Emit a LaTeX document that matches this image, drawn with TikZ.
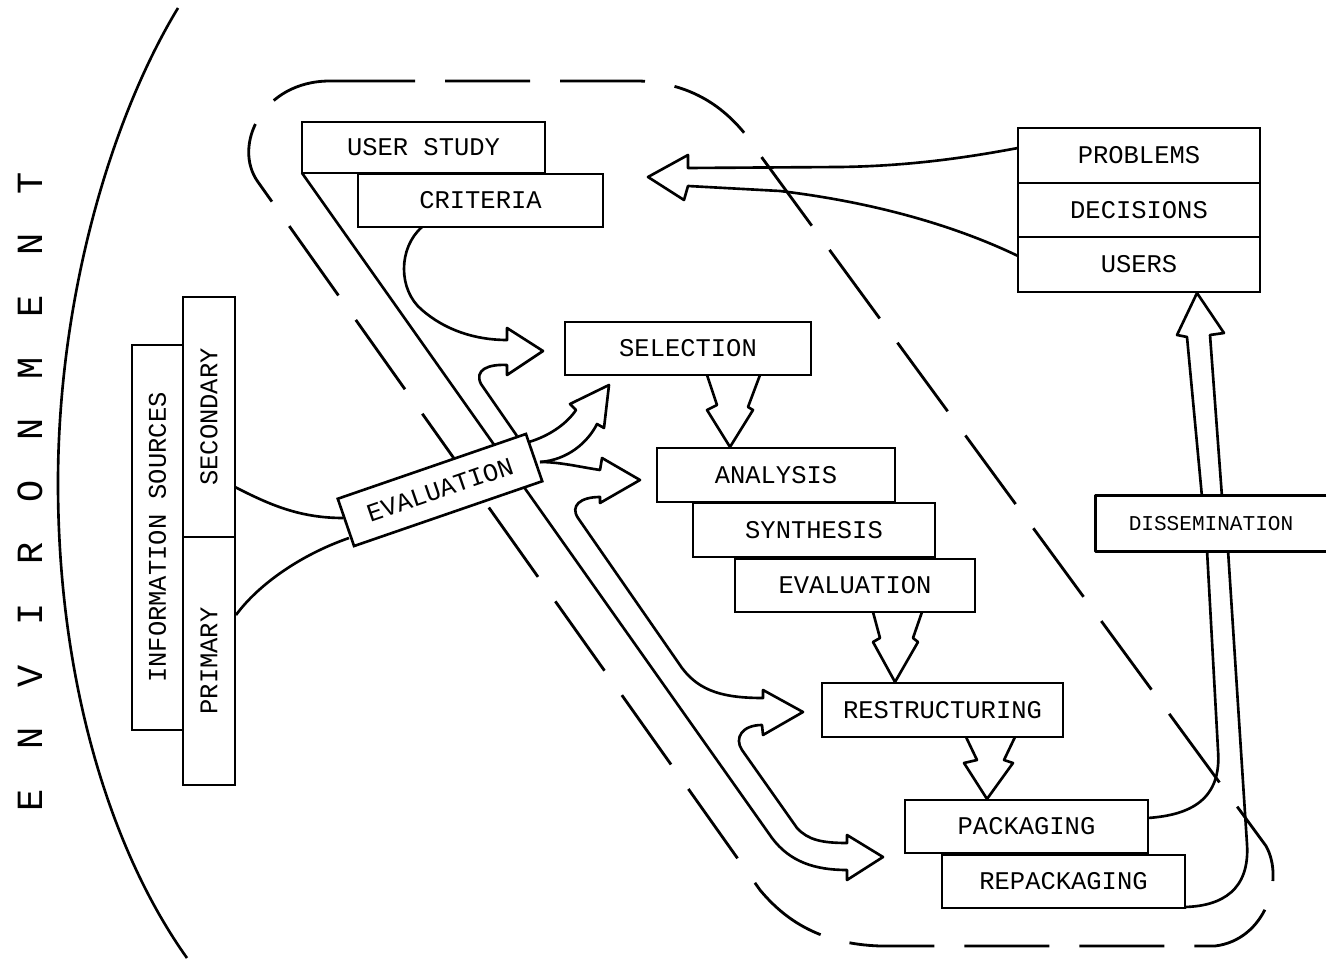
\documentclass[tikz,border=0pt]{standalone}
\usepackage{fontspec}
\setmonofont{Liberation Mono}
\tikzstyle{box}=[draw, fill=white, line width=1.5pt, inner sep=0pt, font=\ttfamily\fontsize{14.5}{17}\selectfont]
\tikzstyle{flow}=[line width=1.5pt, line join=round]
\tikzstyle{fence}=[line width=1.6pt, dash pattern=on 17mm off 6mm]
\tikzstyle{letter}=[rotate=90, inner sep=0pt, font=\ttfamily\fontsize{21}{21}\selectfont]

\begin{document}
\begin{tikzpicture}[x=0.2mm, y=-0.2mm]
    \path[use as bounding box, fill=white] (0,0) rectangle (1332,963);

    % Environment
    \draw[flow] (178,8) .. controls (110,120) and (58,300) .. (58,483) .. controls (58,680) and (110,850) .. (187,958);
    \foreach \ch [count=\i from 0] in {E,N,V,I,R,O,N,M,E,N,T}
        \draw (30,{800-61.7*\i}) node[letter] (env\i) {\ch};

    % Dashed boundary
    \draw[fence] (330,81) -- (640,81) .. controls (700,84) and (735,115) .. (760,155) -- (1266,846)
        .. controls (1285,880) and (1265,940) .. (1215,946) -- (880,946)
        .. controls (820,944) and (785,920) .. (760,890) -- (258,182)
        .. controls (232,146) and (262,81) .. (330,81);

    % Main channel
    \draw[flow] (302,173) -- (772,838) .. controls (790,862) and (815,870) .. (847,870) -- (847,880) -- (883,857)
        -- (847,835) -- (847,843) .. controls (822,843) and (808,840) .. (797,828) -- (742,750)
        .. controls (734,738) and (742,725) .. (762,725) -- (763,735) -- (803,712) -- (763,690) -- (763,698)
        .. controls (725,698) and (700,692) .. (682,668) -- (578,518) .. controls (570,506) and (580,497) .. (600,497)
        -- (600,503) -- (640,480) -- (602,458) -- (600,470) .. controls (580,467) and (560,462) .. (540,462);
    \draw[flow] (529,442) .. controls (552,435) and (568,422) .. (576,410) -- (570,404) -- (609,385) -- (604,428)
        -- (597,424) .. controls (588,442) and (568,460) .. (540,462);
    \draw[flow] (422,227) .. controls (398,248) and (398,290) .. (422,310) .. controls (445,330) and (475,340) .. (507,340)
        -- (507,328) -- (543,351) -- (507,375) -- (507,365) .. controls (488,364) and (474,370) .. (481,384) -- (517,436);

    % Sources
    \draw[flow] (235,487) .. controls (270,505) and (300,518) .. (343,518);
    \draw[flow] (236,615) .. controls (258,585) and (300,555) .. (349,538);

    % Feedback
    \draw[flow] (1018,148) .. controls (975,156) and (915,166) .. (840,167) -- (688,168) -- (688,155) -- (648,177)
        -- (684,200) -- (688,186) -- (780,191) .. controls (880,203) and (960,228) .. (1018,256);

    % Steps
    \draw[flow] (707,375) -- (717,405) -- (707,410) -- (730,447) -- (753,410) -- (748,407) -- (760,375);
    \draw[flow] (873,612) -- (880,638) -- (873,642) -- (895,682) -- (918,642) -- (913,638) -- (922,612);
    \draw[flow] (966,737) -- (977,760) -- (964,763) -- (987,799) -- (1013,763) -- (1004,760) -- (1015,737);

    % Dissemination
    \draw[flow] (1202,497) -- (1187,337) -- (1177,335) -- (1197,293) -- (1224,333) -- (1210,335) -- (1222,497);
    \draw[flow] (1207,550) -- (1218,750) .. controls (1222,800) and (1190,815) .. (1148,818);
    \draw[flow] (1228,550) -- (1247,844) .. controls (1250,890) and (1222,906) .. (1185,907);

    % Boxes
    \draw (423.5,147.5) node[box, minimum width=48.6mm, minimum height=10.2mm] (ustudy) {USER STUDY};
    \draw (480.5,200.5) node[box, minimum width=49mm, minimum height=10.6mm] (crit) {CRITERIA};
    \draw (688,348.5) node[box, minimum width=49.2mm, minimum height=10.6mm] (sel) {SELECTION};
    \draw (776,475) node[box, minimum width=47.6mm, minimum height=10.8mm] (ana) {ANALYSIS};
    \draw (814,530) node[box, minimum width=48.4mm, minimum height=10.8mm] (syn) {SYNTHESIS};
    \draw (855,585.5) node[box, minimum width=48mm, minimum height=10.6mm] (evl) {EVALUATION};
    \draw (942.5,710) node[box, minimum width=48.2mm, minimum height=10.8mm] (restr) {RESTRUCTURING};
    \draw (1026.5,826.5) node[box, minimum width=48.6mm, minimum height=10.6mm] (pack) {PACKAGING};
    \draw (1063.5,881.5) node[box, minimum width=48.6mm, minimum height=10.6mm] (repack) {REPACKAGING};
    \draw (1139,155.5) node[box, minimum width=48.4mm, minimum height=11mm] (prob) {PROBLEMS};
    \draw (1139,210) node[box, minimum width=48.4mm, minimum height=10.8mm] (dec) {DECISIONS};
    \draw (1139,264.5) node[box, minimum width=48.4mm, minimum height=11mm] (users) {USERS};
    \draw (1211,523.5) node[box, draw=none, minimum width=45.6mm, minimum height=10.6mm, font=\ttfamily\fontsize{12}{14}\selectfont] (dis) {DISSEMINATION};
    \draw[flow] (dis.north east) -- (dis.north west) -- (dis.south west) -- (dis.south east);

    % Sources boxes
    \draw (157.5,537.5) node[box, rotate=90, minimum width=77mm, minimum height=10.2mm] (info) {INFORMATION SOURCES};
    \draw (209,417) node[box, rotate=90, minimum width=48mm, minimum height=10.4mm] (second) {SECONDARY};
    \draw (209,661) node[box, rotate=90, minimum width=49.6mm, minimum height=10.4mm] (prim) {PRIMARY};
    \draw (440,490) node[box, rotate=19, minimum width=39.8mm, minimum height=10mm] (eval) {EVALUATION};

\end{tikzpicture}
\end{document}
